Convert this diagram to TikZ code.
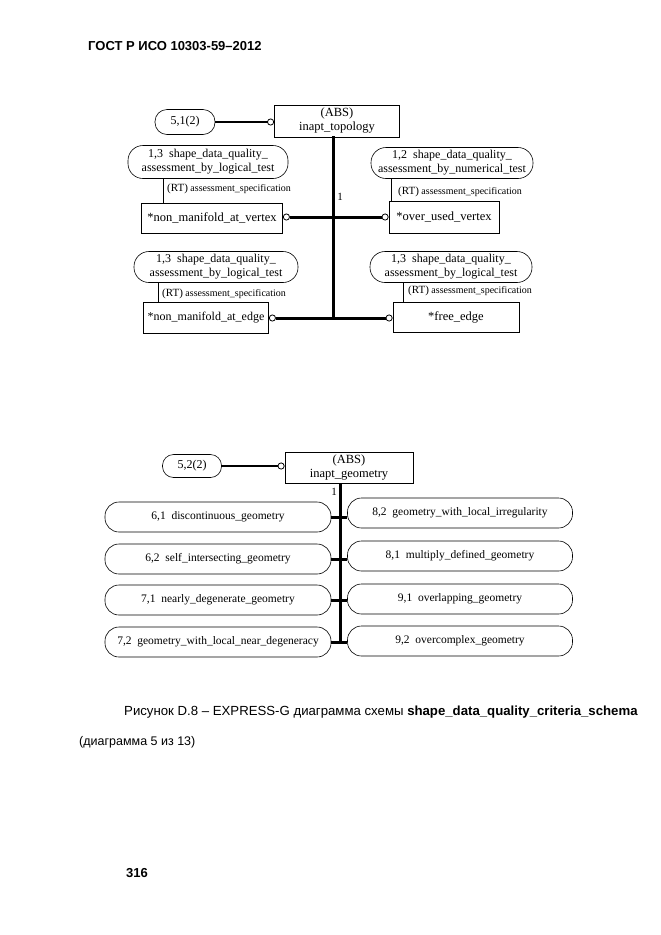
\documentclass[tikz,border=0pt]{standalone}
\usepackage{fontspec}
\setmainfont{Liberation Serif}
\newfontfamily\arialfont{Liberation Sans}
\usetikzlibrary{arrows.meta}

\begin{document}
\begin{tikzpicture}[x=1pt,y=-1pt,
  box/.style={draw,line width=0.8pt,inner sep=0pt,align=center,font=\fontsize{12.5}{14}\selectfont},
  pill/.style={draw,line width=0.6pt,inner sep=0pt,align=center,rounded corners=12pt,font=\fontsize{12}{14}\selectfont},
  gpill/.style={pill,rounded corners=14pt,minimum height=30pt,font=\fontsize{11.5}{13}\selectfont},
  sub/.style={line width=3pt,-{Circle[open,length=7pt,width=7pt,line width=0.8pt]}},
  ref/.style={line width=1.6pt,-{Circle[open,length=7pt,width=7pt,line width=0.8pt]}},
  rtlabel/.style={anchor=west,inner sep=0pt,font=\fontsize{10}{12}\selectfont}]
\useasboundingbox (0,0) rectangle (661,935);
\node[anchor=west,inner sep=0pt,font=\arialfont\bfseries\fontsize{13}{15}\selectfont] (head) at (88,46) {ГОСТ Р ИСО 10303-59–2012};

\node[pill,minimum width=60pt,minimum height=25pt] (ref51) at (185,122) {5,1(2)};
\node[box,minimum width=125pt,minimum height=32pt] (topo) at (337,121) {(ABS)\\inapt\_topology};
\node[pill,minimum width=160pt,minimum height=33pt,rounded corners=15pt] (lq1) at (208,162) {1,3\ \ shape\_data\_quality\_\\assessment\_by\_logical\_test};
\node[box,minimum width=141pt,minimum height=30pt] (nmv) at (212,218) {*non\_manifold\_at\_vertex};
\node[pill,minimum width=162pt,minimum height=31pt,rounded corners=15pt] (nq) at (452,163) {1,2\ \ shape\_data\_quality\_\\assessment\_by\_numerical\_test};
\node[box,minimum width=110pt,minimum height=32pt] (ouv) at (444,217) {*over\_used\_vertex};
\node[pill,minimum width=164pt,minimum height=31pt,rounded corners=15pt] (lq2) at (216,267) {1,3\ \ shape\_data\_quality\_\\assessment\_by\_logical\_test};
\node[box,minimum width=125pt,minimum height=31pt,font=\fontsize{12}{14}\selectfont] (nme) at (206,318) {*non\_manifold\_at\_edge};
\node[pill,minimum width=162pt,minimum height=31pt,rounded corners=15pt] (lq3) at (451,267) {1,3\ \ shape\_data\_quality\_\\assessment\_by\_logical\_test};
\node[box,minimum width=126pt,minimum height=30pt] (fe) at (456,317) {*free\_edge};
\coordinate (j1) at (333,217);
\coordinate (j2) at (333,318);
\node[inner sep=0pt,font=\fontsize{11}{13}\selectfont] (one1) at (340,197) {1};

\draw[ref] (ref51.east) -- (ref51.east -| topo.west);
\draw[line width=3pt,line cap=rect] (topo.south -| j2) -- (j2);
\draw[sub] (j1) -- (j1 -| nmv.east);
\draw[sub] (j1) -- (j1 -| ouv.west);
\draw[sub] (j2) -- (j2 -| nme.east);
\draw[sub] (j2) -- (j2 -| fe.west);
\draw[line width=0.6pt] ([xshift=22pt]nmv.north west) -- ([xshift=22pt]nmv.north west |- lq1.south);
\draw[line width=0.6pt] ([xshift=3pt]ouv.north west) -- ([xshift=3pt]ouv.north west |- nq.south);
\draw[line width=0.6pt] ([xshift=15pt]nme.north west) -- ([xshift=15pt]nme.north west |- lq2.south);
\draw[line width=0.6pt] ([xshift=11pt]fe.north west) -- ([xshift=11pt]fe.north west |- lq3.south);
\node[rtlabel] (rt1) at (167,189) {{\fontsize{11}{13}\selectfont(RT)} assessment\_specification};
\node[rtlabel] (rt2) at (398,192) {{\fontsize{11}{13}\selectfont(RT)} assessment\_specification};
\node[rtlabel] (rt3) at (162,294) {{\fontsize{11}{13}\selectfont(RT)} assessment\_specification};
\node[rtlabel] (rt4) at (408,291) {{\fontsize{11}{13}\selectfont(RT)} assessment\_specification};

\node[pill,minimum width=59pt,minimum height=23pt,rounded corners=11pt] (ref52) at (192,466) {5,2(2)};
\node[box,minimum width=128pt,minimum height=31pt] (geo) at (349,468) {(ABS)\\inapt\_geometry};
\node[gpill,minimum width=226pt] (g61) at (218,517) {6,1\ \ discontinuous\_geometry};
\node[gpill,minimum width=226pt] (g62) at (218,559) {6,2\ \ self\_intersecting\_geometry};
\node[gpill,minimum width=226pt] (g71) at (218,600) {7,1\ \ nearly\_degenerate\_geometry};
\node[gpill,minimum width=226pt] (g72) at (218,642) {7,2\ \ geometry\_with\_local\_near\_degeneracy};
\node[gpill,minimum width=225pt] (g82) at (460,513) {8,2\ \ geometry\_with\_local\_irregularity};
\node[gpill,minimum width=225pt] (g81) at (460,556) {8,1\ \ multiply\_defined\_geometry};
\node[gpill,minimum width=225pt] (g91) at (460,599) {9,1\ \ overlapping\_geometry};
\node[gpill,minimum width=225pt] (g92) at (460,641) {9,2\ \ overcomplex\_geometry};
\coordinate (j3) at (340,642);
\node[inner sep=0pt,font=\fontsize{11}{13}\selectfont] (one2) at (334,492) {1};

\draw[ref] (ref52.east) -- (ref52.east -| geo.west);
\draw[line width=3pt] (geo.south -| j3) -- (j3);
\draw[line width=3pt] (g61.east) -- (g61.east -| g82.west);
\draw[line width=3pt] (g62.east) -- (g62.east -| g81.west);
\draw[line width=3pt] (g71.east) -- (g71.east -| g91.west);
\draw[line width=3pt] (g72.east) -- (g72.east -| g92.west);

\node[anchor=west,inner sep=0pt,font=\arialfont\fontsize{13.2}{15}\selectfont] (cap1) at (124,712) {Рисунок D.8 – EXPRESS-G диаграмма схемы \textbf{shape\_data\_quality\_criteria\_schema}};
\node[anchor=west,inner sep=0pt,font=\arialfont\fontsize{12.5}{15}\selectfont] (cap2) at (79,742) {(диаграмма 5 из 13)};
\node[anchor=west,inner sep=0pt,font=\arialfont\bfseries\fontsize{13}{15}\selectfont] (page) at (126,873) {316};
\end{tikzpicture}
\end{document}
